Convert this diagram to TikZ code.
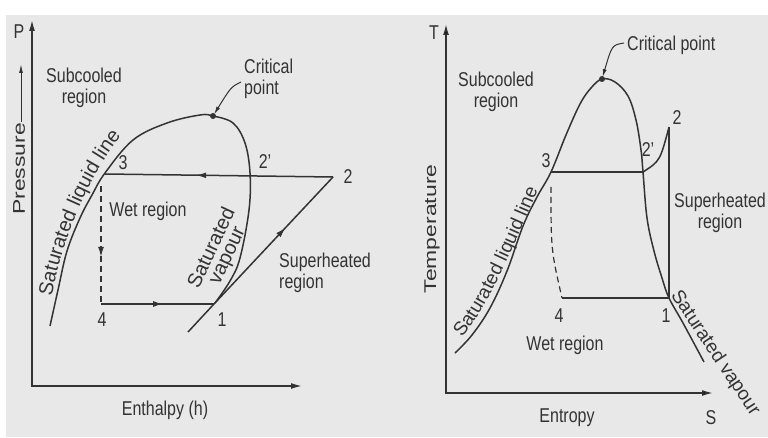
\documentclass[tikz,border=0pt]{standalone}
\usepackage{fontspec}
\setmainfont{Liberation Sans}[FakeStretch=0.8]
\newfontfamily\rotfont{Liberation Sans}
\newfontfamily\vertfont{Liberation Sans}[FakeStretch=1.35]
\usetikzlibrary{arrows.meta,decorations.markings,decorations.text}
\definecolor{ink}{HTML}{333333}
\definecolor{paper}{HTML}{E8E8E8}
\begin{document}
\begin{tikzpicture}[x=1pt,y=1pt,
  ln/.style={draw=ink,line width=1.5pt},
  lbl/.style={font=\fontsize{20}{21}\selectfont,text=ink,inner sep=0pt},
  vlbl/.style={font=\vertfont\fontsize{17}{17}\selectfont,text=ink,inner sep=0pt,rotate=90},
  midarrow/.style={postaction={decorate,decoration={markings,mark=at position #1 with {\arrow{Latex[length=10pt,width=6pt]}}}}},
  dashln/.style={draw=ink,line width=1.2pt,dash pattern=on 6pt off 4pt},
  leader/.style={draw=ink,line width=1pt,-{Latex[length=8pt,width=4pt]}},
]
\useasboundingbox (0,0) rectangle (768,437);
\fill[white] (0,0) rectangle (768,437);
\fill[paper] (6,0) rectangle (768,422);

% ---------------- left: P-h diagram ----------------
\coordinate (Ptop) at (32,417);
\coordinate (O1) at (32,51);
\coordinate (Hend) at (302,51);
\draw[ln,{Latex[length=11pt,width=6pt]}-{Latex[length=11pt,width=6pt]}] (Ptop) -- (O1) -- (Hend);
\node[lbl] (Plab) at (19,405) {P};
\node[vlbl] (Pres) at (19,268) {Pressure};
\coordinate (pa1) at (21,315);
\coordinate (pa2) at (21,373);
\draw[draw=ink,line width=1pt,-{Latex[length=9pt,width=4pt]}] (pa1) -- (pa2);

\draw[ln] plot[smooth,tension=0.6] coordinates {(50,111)(58,147)(67,186)(80,219)(92,242)(105,264)(133,297)(167,314)(200,322)(213,321)(233,314)(245,294)(250,264)(249,227)(240,179)(230,156)(215,134)};

\coordinate (L3) at (105,263);
\coordinate (L2p) at (250,262);
\coordinate (L2) at (333,260);
\coordinate (L1) at (214,133);
\coordinate (L4) at (101,133);
\coordinate (L0) at (188,105);
\coordinate (L3d) at (101,251);
\coordinate (Lcp) at (213,321);
\coordinate (Lcl) at (241,355);

\draw[ln,midarrow=0.6] (L2) -- (L3);
\draw[ln] (L0) -- (L1);
\draw[ln,midarrow=0.6] (L1) -- (L2);
\draw[ln,midarrow=0.55] (L4) -- (L1);
\draw[dashln,midarrow=0.6] (L3d) -- (L4);
\fill[ink] (Lcp) circle (3);
\draw[leader,shorten >=2pt] (Lcl) .. controls (231,350) .. (Lcp);

\node[lbl,align=center] (Lsub) at (84,349) {Subcooled\\region};
\node[lbl,align=left,anchor=west] (Lcrit) at (244,358) {Critical\\point};
\node[lbl] (Lwet) at (148,226) {Wet region};
\node[lbl,align=left,anchor=west] (Lsup) at (279,164) {Superheated\\region};
\node[lbl] (Lent) at (165,27) {Enthalpy (h)};
\node[lbl] (L3lab) at (123,274) {3};
\node[lbl] (L2plab) at (265,275) {2'};
\node[lbl] (L2lab) at (348,260) {2};
\node[lbl] (L4lab) at (102,117) {4};
\node[lbl] (L1lab) at (222,117) {1};
\node[lbl,font=\rotfont\fontsize{20}{17}\selectfont,rotate=65,align=center] (Lsv) at (220,185) {Saturated\\vapour};
\coordinate (Lt1) at (53,138);
\coordinate (Lt2) at (124,302);
\path[decorate,decoration={text along path,text color=ink,text={|\rotfont\fontsize{20}{20}\selectfont|Saturated liquid line},text align=center,raise=1.5pt}]
  (Lt1) .. controls (63,200) and (94,266) .. (Lt2);

% ---------------- right: T-s diagram ----------------
\coordinate (Ttop) at (446,413);
\coordinate (O2) at (446,44);
\coordinate (Send) at (713,44);
\draw[ln,{Latex[length=11pt,width=6pt]}-{Latex[length=11pt,width=6pt]}] (Ttop) -- (O2) -- (Send);
\node[lbl] (Tlab) at (434,404) {T};
\node[lbl] (Slab) at (711,19) {S};
\node[vlbl] (Temp) at (432,208) {Temperature};

\draw[ln] plot[smooth,tension=0.6] coordinates {(455,84)(472,102)(490,129)(507,166)(523,211)(537,240)(551,265)(566,302)(580,333)(591,349)(602,358)(615,355)(628,341)(636,317)(641,287)(643,265)(647,219)(654,186)(662,159)(669,139)(683,114)(704,75)};

\coordinate (R3) at (551,265);
\coordinate (R2p) at (643,265);
\coordinate (R2) at (669,310);
\coordinate (R1) at (669,139);
\coordinate (R4) at (562,139);
\coordinate (R3d) at (551,250);
\coordinate (Rcp) at (602,358);
\coordinate (Rcl) at (624,394);

\draw[ln] (R3) -- (R2p);
\draw[ln] (R2p) .. controls (660,276) .. (R2);
\draw[ln] (R2) -- (R1);
\draw[ln] (R4) -- (R1);
\draw[dashln] (R3d) .. controls (551,187) .. (R4);
\fill[ink] (Rcp) circle (3);
\draw[leader,shorten >=2pt] (Rcl) .. controls (612,392) .. (Rcp);

\node[lbl,align=center] (Rsub) at (496,345) {Subcooled\\region};
\node[lbl,anchor=west] (Rcrit) at (627,392) {Critical point};
\node[lbl,align=center] (Rsup) at (720,224) {Superheated\\region};
\node[lbl] (Rwet) at (565,92) {Wet region};
\node[lbl] (Rent) at (567,19) {Entropy};
\node[lbl] (R3lab) at (546,276) {3};
\node[lbl] (R2plab) at (648,287) {2'};
\node[lbl] (R2lab) at (677,319) {2};
\node[lbl] (R4lab) at (559,121) {4};
\node[lbl] (R1lab) at (666,121) {1};
\coordinate (Rt1) at (462,97);
\coordinate (Rt2) at (540,248);
\path[decorate,decoration={text along path,text color=ink,text={|\rotfont\fontsize{19}{19}\selectfont|Saturated liquid line},text align=center,raise=1.5pt}]
  (Rt1) .. controls (490,130) and (515,190) .. (Rt2);
\coordinate (Rv1) at (668,140);
\coordinate (Rv2) at (756,8);
\path[decorate,decoration={text along path,text color=ink,text={|\rotfont\fontsize{19}{19}\selectfont|Saturated vapour},text align=left,raise=3pt}] (Rv1) -- (Rv2);
\end{tikzpicture}
\end{document}
